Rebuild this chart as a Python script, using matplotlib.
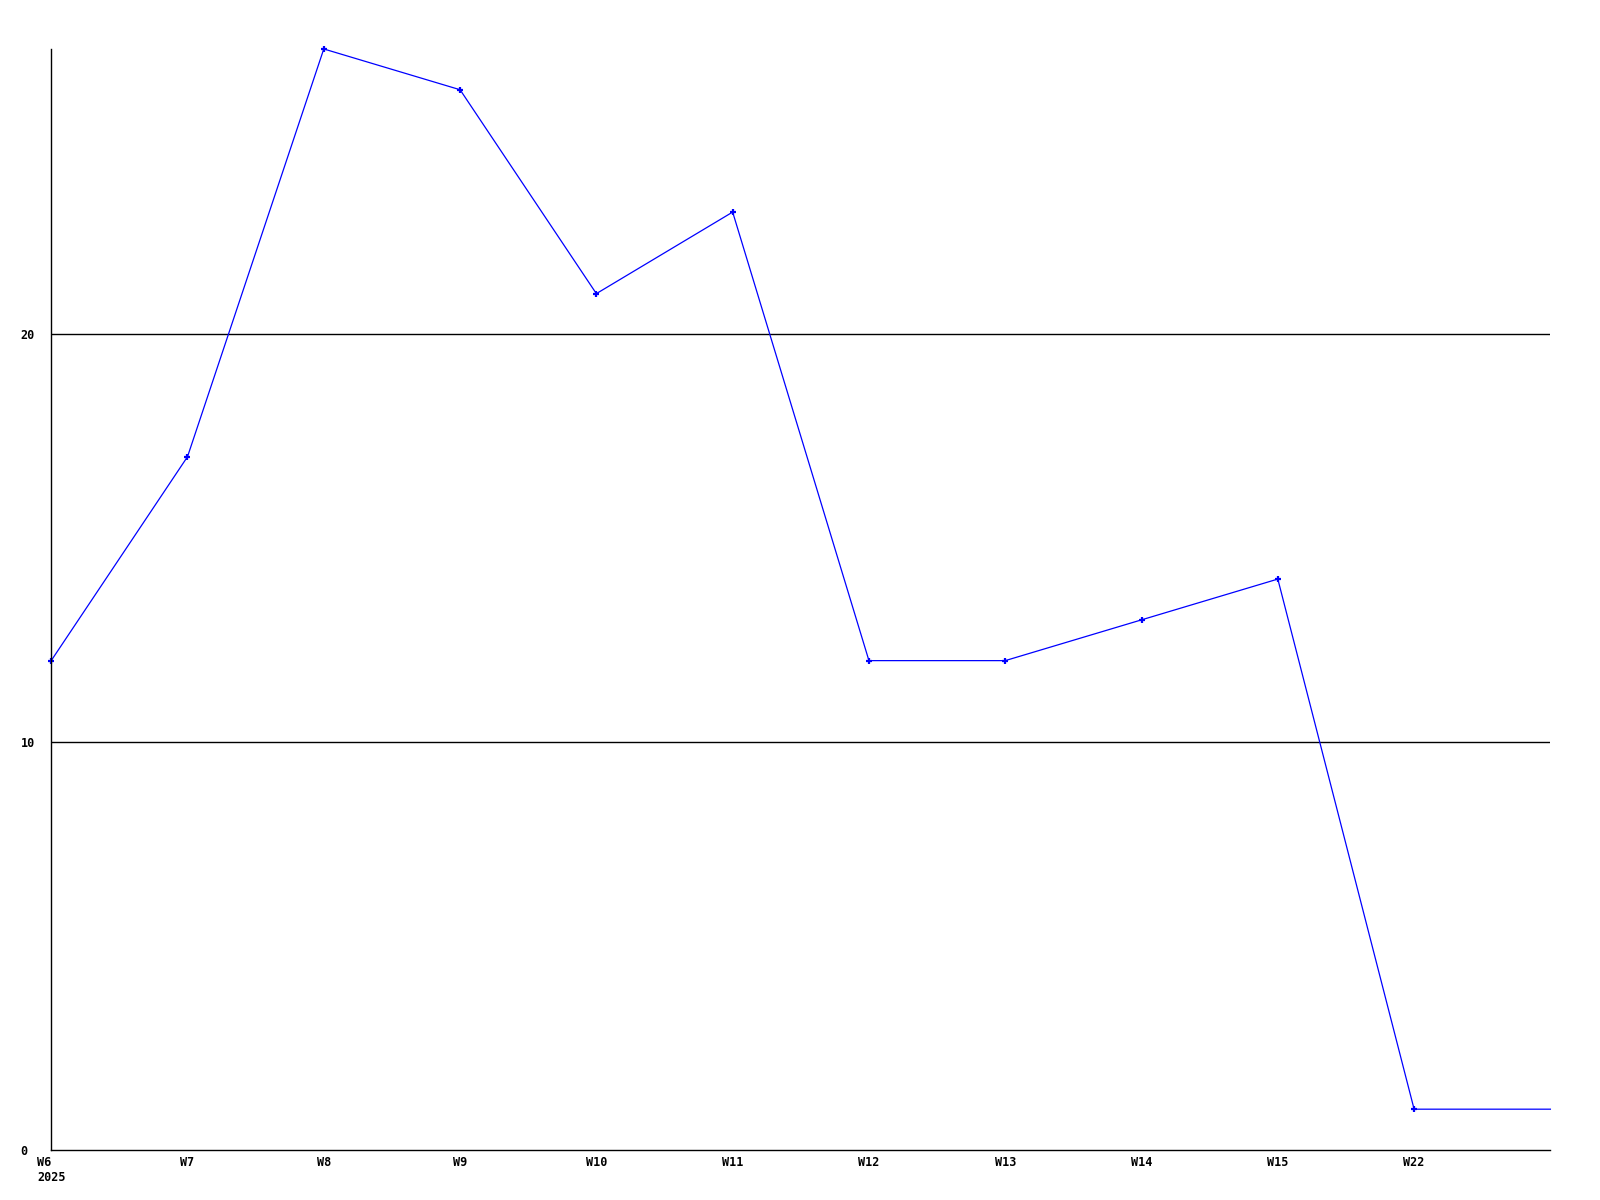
import matplotlib
matplotlib.use('Agg')
import matplotlib.pyplot as plt
import numpy as np

weeks = ['W6\n2025', 'W7', 'W8', 'W9', 'W10', 'W11', 'W12', 'W13', 'W14', 'W15', 'W22', '']
values = [12, 17, 27, 26, 21, 23, 12, 12, 13, 14, 1, 1]
yticks = [0, 10, 20]

fig = plt.figure(figsize=(16, 12), dpi=100)
ax = fig.add_axes([0.032, 0.0417, 0.937, 0.9175])

x = np.arange(len(values))
ax.plot(x, values, color='#0000ff', lw=0.9, marker='+', ms=4, mew=1.6,
        markevery=list(range(len(values) - 1)), clip_on=False)

ax.set_xlim(0, len(values) - 1)
ax.set_ylim(0, 27)

ax.set_yticks(yticks)
ax.set_yticklabels([str(v) for v in yticks])
ax.set_xticks(x)
ax.set_xticklabels(weeks)
for lbl in ax.get_xticklabels():
    lbl.set_multialignment('left')

for v in yticks[1:]:
    ax.axhline(v, color='black', lw=1.0, zorder=0)   # horizontal grid lines

for s in ['top', 'right']:
    ax.spines[s].set_visible(False)
ax.spines['left'].set_linewidth(1.0)
ax.spines['bottom'].set_linewidth(1.0)

ax.tick_params(axis='y', length=0, pad=22)
ax.tick_params(axis='x', length=0, pad=4)
for lbl in ax.get_yticklabels():
    lbl.set_horizontalalignment('left')
for lbl in ax.get_xticklabels() + ax.get_yticklabels():
    lbl.set_family('DejaVu Sans Mono')
    lbl.set_fontweight('bold')
    lbl.set_fontsize(8.5)

fig.savefig('out.png', dpi=100)
